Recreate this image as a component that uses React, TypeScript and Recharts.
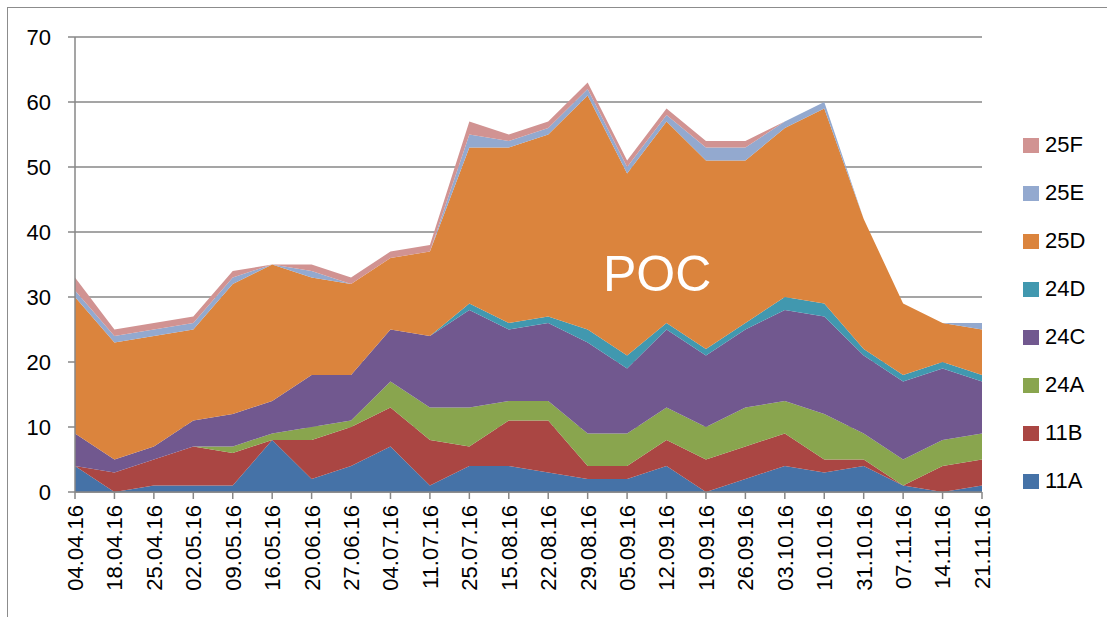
import React from 'react'
import { AreaChart, Area, XAxis, YAxis, CartesianGrid } from 'recharts'

const dates = [
    '04.04.16', '18.04.16', '25.04.16', '02.05.16', '09.05.16', '16.05.16', '20.06.16', '27.06.16',
    '04.07.16', '11.07.16', '25.07.16', '15.08.16', '22.08.16', '29.08.16', '05.09.16', '12.09.16',
    '19.09.16', '26.09.16', '03.10.16', '10.10.16', '31.10.16', '07.11.16', '14.11.16', '21.11.16',
]
const s11A = [4, 0, 1, 1, 1, 8, 2, 4, 7, 1, 4, 4, 3, 2, 2, 4, 0, 2, 4, 3, 4, 1, 0, 1]
const s11B = [0, 3, 4, 6, 5, 0, 6, 6, 6, 7, 3, 7, 8, 2, 2, 4, 5, 5, 5, 2, 1, 0, 4, 4]
const s24A = [0, 0, 0, 0, 1, 1, 2, 1, 4, 5, 6, 3, 3, 5, 5, 5, 5, 6, 5, 7, 4, 4, 4, 4]
const s24C = [5, 2, 2, 4, 5, 5, 8, 7, 8, 11, 15, 11, 12, 14, 10, 12, 11, 12, 14, 15, 12, 12, 11, 8]
const s24D = [0, 0, 0, 0, 0, 0, 0, 0, 0, 0, 1, 1, 1, 2, 2, 1, 1, 1, 2, 2, 1, 1, 1, 1]
const s25D = [21, 18, 17, 14, 20, 21, 15, 14, 11, 13, 24, 27, 28, 36, 28, 31, 29, 25, 26, 30, 20, 11, 6, 7]
const s25E = [1, 1, 1, 1, 1, 0, 1, 0, 0, 0, 2, 1, 1, 1, 1, 1, 2, 2, 1, 1, 0, 0, 0, 1]
const s25F = [2, 1, 1, 1, 1, 0, 1, 1, 1, 1, 2, 1, 1, 1, 1, 1, 1, 1, 0, 0, 0, 0, 0, 0]
const yTicks = [0, 10, 20, 30, 40, 50, 60, 70]

// bottom to top
const series = [
    { key: '11A', values: s11A, color: '#4572A7' },
    { key: '11B', values: s11B, color: '#AA4643' },
    { key: '24A', values: s24A, color: '#89A54E' },
    { key: '24C', values: s24C, color: '#71588F' },
    { key: '24D', values: s24D, color: '#4198AF' },
    { key: '25D', values: s25D, color: '#DB843D' },
    { key: '25E', values: s25E, color: '#93A9CF' },
    { key: '25F', values: s25F, color: '#D19392' },
]

const data = dates.map((date, i) => {
    const row: any = { date }
    series.forEach((s) => { row[s.key] = s.values[i] })
    return row
})

const FONT = '"Liberation Sans", Arial, sans-serif'
const GRID = '#878787'

function DateTick({ x, y, payload }: any) {
    return (
        <text
            transform={`translate(${x},${y}) rotate(-90)`}
            textAnchor="end"
            dy="0.36em"
            fontSize={22}
            fontFamily={FONT}
            fill="#000"
        >
            {payload.value}
        </text>
    )
}

export default function App() {
    return (
        <div style={{ position: 'fixed', left: 0, top: 0, width: 1107, height: 617, background: '#fff', fontFamily: FONT }}>
            <div style={{ position: 'absolute', left: 7, top: 7, width: 1120, height: 630, border: '1.5px solid #8c8c8c' }} />
            <AreaChart
                width={1107}
                height={617}
                data={data}
                margin={{ top: 37, right: 125, bottom: 0, left: 0 }}
                style={{ position: 'absolute', left: 0, top: 0 }}
            >
                <CartesianGrid vertical={false} stroke={GRID} strokeWidth={1.5} />
                <XAxis
                    dataKey="date"
                    scale="point"
                    interval={0}
                    height={125}
                    stroke={GRID}
                    strokeWidth={1.5}
                    tickSize={7}
                    tickMargin={6}
                    tick={<DateTick />}
                />
                <YAxis
                    domain={[0, 70]}
                    ticks={yTicks}
                    width={75}
                    stroke={GRID}
                    strokeWidth={1.5}
                    tickSize={7}
                    tickMargin={17}
                    tick={{ fill: '#000', fontSize: 22, fontFamily: FONT }}
                />
                {series.map((s) => (
                    <Area
                        key={s.key}
                        type="linear"
                        dataKey={s.key}
                        stackId="poc"
                        fill={s.color}
                        fillOpacity={1}
                        stroke="none"
                        isAnimationActive={false}
                    />
                ))}
            </AreaChart>
            <div style={{ position: 'absolute', left: 603, top: 244, fontSize: 50, color: '#fff', lineHeight: '60px' }}>POC</div>
            <div style={{ position: 'absolute', left: 1023, top: 121 }}>
                {[...series].reverse().map((s) => (
                    <div key={s.key} style={{ display: 'flex', alignItems: 'center', height: 48 }}>
                        <span style={{ width: 16, height: 15, background: s.color, marginRight: 6 }} />
                        <span style={{ fontSize: 22, color: '#000' }}>{s.key}</span>
                    </div>
                ))}
            </div>
        </div>
    )
}
